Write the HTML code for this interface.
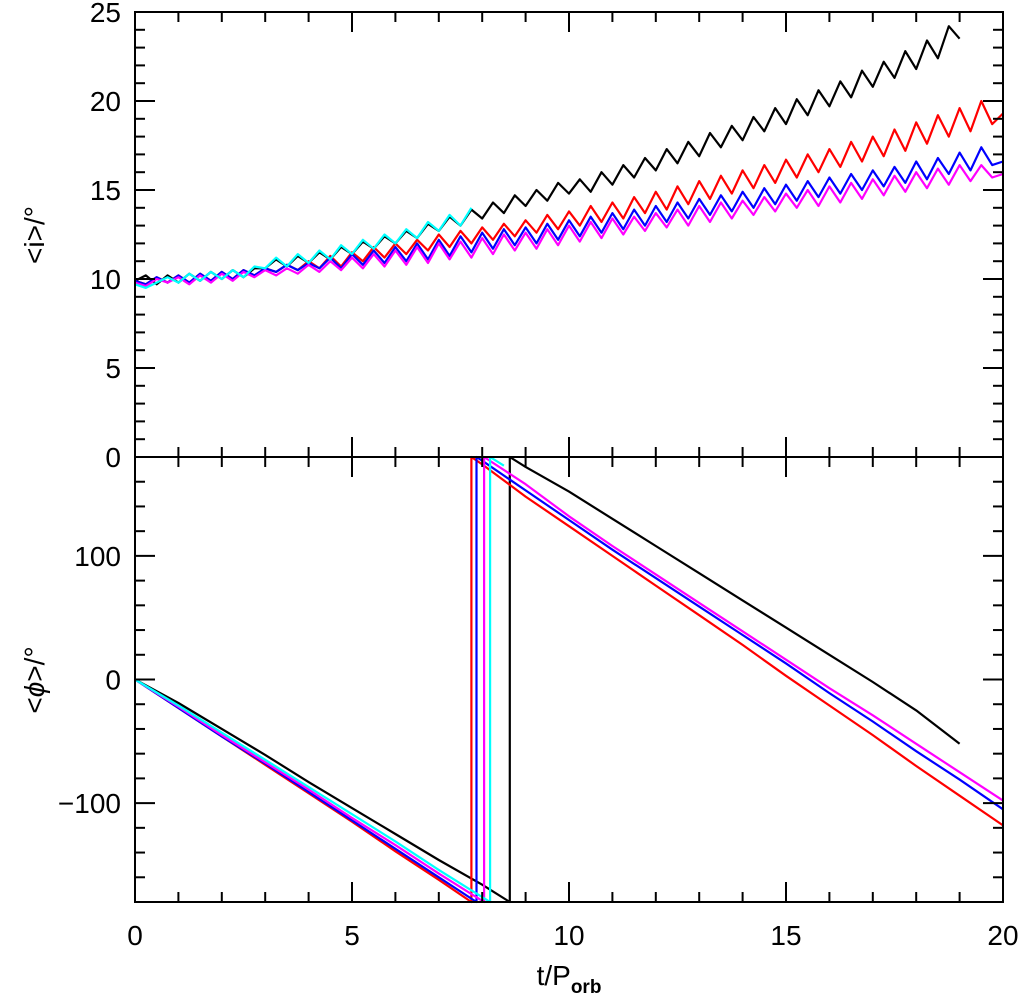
<!DOCTYPE html>
<html><head><meta charset="utf-8"><style>
html,body{margin:0;padding:0;background:#fff;}
svg{display:block;font-family:"Liberation Sans",sans-serif;}
</style></head><body>
<svg id="chart" width="1020" height="1001" viewBox="0 0 1020 1001" xmlns="http://www.w3.org/2000/svg">
<g id="marks"></g>
<g id="axes"></g>
<text x="569" y="985" font-size="28" text-anchor="middle">t/P<tspan font-size="19" font-weight="bold" dy="8">orb</tspan></text>
<text transform="translate(44,235) rotate(-90)" font-size="28" text-anchor="middle">&lt;i&gt;/°</text>
<text transform="translate(44,680) rotate(-90)" font-size="28" text-anchor="middle">&lt;<tspan font-style="italic">ϕ</tspan>&gt;/°</text>
</svg>
<script>
// ---- data: top panel (inclination, sampled every 0.25 t/Porb) ----
const incStep = 0.25;
const incBlack = [9.9,10.2,9.7,10.2,9.8,10.3,9.9,10.4,10.0,10.5,10.1,10.6,10.6,11.1,10.7,11.3,10.9,11.5,11.1,11.8,11.4,12.1,11.7,12.4,12.0,12.7,12.3,13.1,12.7,13.5,13.0,13.9,13.4,14.3,13.7,14.7,14.1,15.0,14.4,15.4,14.8,15.6,14.9,16.0,15.3,16.4,15.7,16.8,16.1,17.3,16.5,17.7,16.9,18.2,17.4,18.6,17.8,19.1,18.3,19.6,18.7,20.1,19.2,20.6,19.7,21.1,20.2,21.7,20.8,22.2,21.3,22.8,21.8,23.4,22.4,24.2,23.5];
const incCyan = [9.7,9.5,9.8,10.1,9.8,10.3,9.9,10.4,10.0,10.5,10.1,10.7,10.6,11.2,10.7,11.4,10.9,11.6,11.1,11.9,11.4,12.2,11.7,12.5,12.0,12.8,12.3,13.2,12.7,13.6,13.0,14.0];
const incRed = [9.9,9.7,10.1,9.8,10.2,9.8,10.3,9.9,10.4,10.0,10.5,10.2,10.6,10.4,10.8,10.5,11.0,10.6,11.3,10.7,11.5,11.0,11.8,11.2,12.0,11.4,12.2,11.6,12.5,11.8,12.7,12.0,12.9,12.2,13.1,12.4,13.3,12.6,13.6,12.8,13.8,13.0,14.1,13.2,14.3,13.4,14.6,13.7,14.9,13.9,15.2,14.2,15.5,14.5,15.8,14.8,16.1,15.1,16.4,15.4,16.7,15.7,17.0,16.0,17.3,16.3,17.7,16.6,18.0,16.9,18.4,17.2,18.8,17.6,19.2,18.0,19.6,18.3,20.0,18.7,19.3];
const incBlue = [9.9,9.7,10.1,9.8,10.2,9.8,10.3,9.9,10.4,10.0,10.5,10.2,10.6,10.4,10.8,10.5,10.9,10.6,11.2,10.6,11.4,10.8,11.6,10.9,11.8,11.0,12.0,11.1,12.2,11.3,12.4,11.5,12.6,11.7,12.8,11.9,12.9,12.0,13.1,12.2,13.3,12.4,13.5,12.6,13.7,12.8,13.9,13.0,14.1,13.2,14.3,13.4,14.5,13.6,14.7,13.8,14.9,14.0,15.1,14.2,15.3,14.4,15.5,14.6,15.7,14.8,15.9,15.0,16.1,15.2,16.3,15.4,16.6,15.6,16.8,15.9,17.1,16.1,17.4,16.4,16.6];
const incMagenta = [9.8,9.6,10.0,9.8,10.1,9.7,10.2,9.8,10.3,9.9,10.4,10.1,10.5,10.2,10.6,10.3,10.8,10.4,11.0,10.5,11.2,10.6,11.4,10.7,11.6,10.8,11.8,10.9,12.0,11.1,12.1,11.2,12.3,11.4,12.5,11.6,12.6,11.7,12.8,11.9,13.0,12.1,13.2,12.3,13.4,12.5,13.5,12.7,13.7,12.9,13.9,13.0,14.1,13.2,14.3,13.4,14.4,13.6,14.6,13.8,14.8,14.0,15.0,14.1,15.2,14.3,15.4,14.5,15.6,14.7,15.8,14.9,16.0,15.1,16.2,15.3,16.4,15.5,16.4,15.7,15.9];
// ---- data: bottom panel (unwrapped phase, degrees) ----
const phaseT = [0,1,2,3,4,5,6,7,8,9,10,11,12,13,14,15,16,17,18,19,20];
const phaseBlack = [0,-19,-40,-61,-83,-104,-125,-146,-166,-188,-208,-230,-252,-274,-296,-318,-340,-362,-385,-412];
const phaseRed = [0,-23,-46,-69,-92,-115,-139,-162,-186,-212,-236,-260,-284,-308,-332,-357,-381,-405,-430,-454,-478];
const phaseBlue = [0,-23,-46,-68,-91,-114,-137,-160,-183,-207,-231,-255,-278,-301,-324,-347,-371,-394,-418,-441,-465];
const phaseMagenta = [0,-22,-45,-67,-89,-112,-134,-157,-179,-202,-228,-252,-275,-298,-321,-344,-367,-389,-412,-435,-458];
const phaseCyanT = [0,1,2,3,4,5,6,7,8,8.5];
const phaseCyan = [0,-21,-43,-65,-87,-109,-131,-154,-176,-187];
// ---- ticks ----
const xTicks = [0,5,10,15,20];
const incTicks = [0,5,10,15,20,25];
const phaseTicks = [-100,0,100];
const phaseTickLabels = ["\u2212100","0","100"];

const NS="http://www.w3.org/2000/svg";
const L=135,R=1003,T1=12,B1=457,T2=457,B2=902;
const xs=t=>L+(t/20)*(R-L);
const yInc=v=>B1-(v/25)*(B1-T1);
const yPh=v=>B2-((v+180)/360)*(B2-T2);
const marks=document.getElementById('marks'), axes=document.getElementById('axes');
function mk(tag,attrs,parent){const e=document.createElementNS(NS,tag);for(const k in attrs)e.setAttribute(k,attrs[k]);parent.appendChild(e);return e;}

function incLine(arr,color,name){
  const d=arr.map((v,i)=>(i?'L':'M')+xs(i*incStep).toFixed(1)+','+yInc(v).toFixed(1)).join('');
  const p=mk('path',{d:d,fill:'none',stroke:color,'stroke-width':2.2,'stroke-linejoin':'round'},marks);
  
  
}
function wrap(v){let w=((v+180)%360+360)%360-180;return w;}
function phaseLine(ts,arr,color,name){
  let d='';
  for(let i=0;i<arr.length;i++){
    const t=ts[i],v=arr[i];
    if(i===0){d+='M'+xs(t).toFixed(1)+','+yPh(wrap(v)).toFixed(1);continue;}
    const t0=ts[i-1],v0=arr[i-1];
    const k0=Math.floor((v0+180)/360),k1=Math.floor((v+180)/360);
    if(k0!==k1){
      const b=k0*360-180;
      const tc=t0+(b-v0)/(v-v0)*(t-t0);
      d+='L'+xs(tc).toFixed(1)+','+yPh(-180).toFixed(1)+'L'+xs(tc).toFixed(1)+','+yPh(180).toFixed(1);
    }
    d+='L'+xs(t).toFixed(1)+','+yPh(wrap(v)).toFixed(1);
  }
  const p=mk('path',{d:d,fill:'none',stroke:color,'stroke-width':2.2,'stroke-linejoin':'round'},marks);
  
  
}
incLine(incBlack,'#000','inc-line-black');
incLine(incRed,'#f00','inc-line-red');
incLine(incBlue,'#00f','inc-line-blue');
incLine(incMagenta,'#f0f','inc-line-magenta');
incLine(incCyan,'#0ff','inc-line-cyan');
phaseLine(phaseT,phaseBlack,'#000','phase-line-black');
phaseLine(phaseT,phaseRed,'#f00','phase-line-red');
phaseLine(phaseT,phaseBlue,'#00f','phase-line-blue');
phaseLine(phaseT,phaseMagenta,'#f0f','phase-line-magenta');
phaseLine(phaseCyanT,phaseCyan,'#0ff','phase-line-cyan');

const f1=mk('rect',{x:L,y:T1,width:R-L,height:B1-T1,fill:'none',stroke:'#000','stroke-width':2},axes);


const f2=mk('rect',{x:L,y:T2,width:R-L,height:B2-T2,fill:'none',stroke:'#000','stroke-width':2},axes);


function tick(x1,y1,x2,y2){const l=mk('line',{x1:x1,y1:y1,x2:x2,y2:y2,stroke:'#000','stroke-width':2},axes);
  
  }
for(let t=0;t<=20;t++){
  const len=(t%5===0)?20:10,x=xs(t);
  tick(x,B1,x,B1-len);tick(x,T1,x,T1+len);
  tick(x,B2,x,B2-len);tick(x,T2,x,T2+len);
}
for(let v=0;v<=25;v++){const len=(v%5===0)?20:10,y=yInc(v);tick(L,y,L+len,y);tick(R,y,R-len,y);}
for(let v=-180;v<=180;v+=20){const len=(v%100===0)?20:10,y=yPh(v);tick(L,y,L+len,y);tick(R,y,R-len,y);}
function label(x,y,s,anchor,name){const e=mk('text',{x:x,y:y,'font-size':28,'text-anchor':anchor},axes);e.textContent=s;
  
  }
xTicks.forEach(t=>label(xs(t),945,String(t),'middle','x-tick-label'));
incTicks.forEach(v=>label(L-14,yInc(v)+10,String(v),'end','top-y-tick-label'));
phaseTicks.forEach((v,i)=>label(L-14,yPh(v)+10,phaseTickLabels[i],'end','bottom-y-tick-label'));
</script>
</body></html>
